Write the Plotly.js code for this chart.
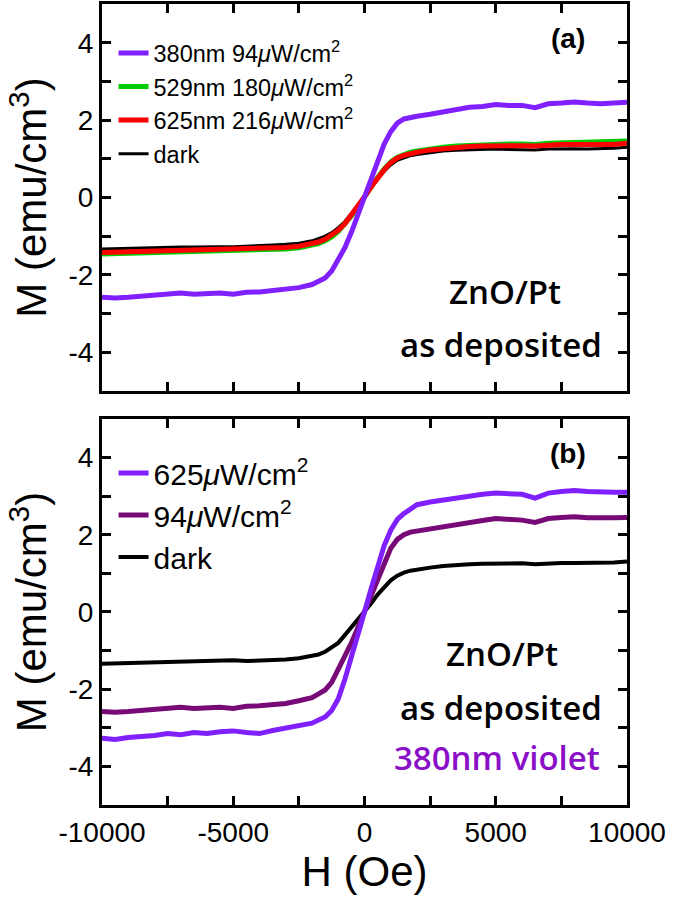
<!DOCTYPE html>
<html>
<head>
<meta charset="utf-8">
<script src="https://cdn.plot.ly/plotly-3.0.1.min.js"></script>
<style>html,body{margin:0;padding:0;background:#fff;}#chart{width:675px;height:897px;}</style>
</head>
<body>
<div id="chart"></div>
<script>
// Magnetic field H (Oe)
const H = [-10000,-9500,-9000,-8500,-8000,-7500,-7000,-6500,-6000,-5500,-5000,-4500,-4000,-3500,-3000,-2500,-2000,-1750,-1500,-1250,-1000,-750,-500,-250,0,250,500,750,1000,1250,1500,1750,2000,2500,3000,3500,4000,4500,5000,5500,6000,6500,7000,7500,8000,8500,9000,9500,10000];

// Panel (a)
const a380 = [-2.58,-2.6,-2.58,-2.55,-2.53,-2.5,-2.47,-2.5,-2.48,-2.47,-2.5,-2.45,-2.44,-2.41,-2.38,-2.33,-2.25,-2.18,-2.08,-1.9,-1.62,-1.3,-0.9,-0.45,0.0,0.5,0.95,1.38,1.7,1.92,2.03,2.08,2.1,2.15,2.22,2.27,2.33,2.35,2.4,2.38,2.38,2.32,2.42,2.44,2.47,2.44,2.42,2.44,2.46];
const a529 = [-1.46,-1.45,-1.44,-1.43,-1.42,-1.41,-1.4,-1.41,-1.4,-1.39,-1.39,-1.38,-1.37,-1.35,-1.33,-1.3,-1.24,-1.19,-1.12,-1.02,-0.88,-0.7,-0.48,-0.24,0.02,0.28,0.52,0.74,0.92,1.04,1.12,1.17,1.2,1.26,1.3,1.33,1.35,1.37,1.38,1.38,1.38,1.37,1.4,1.41,1.41,1.4,1.41,1.42,1.46];
const a625 = [-1.42,-1.41,-1.4,-1.39,-1.38,-1.37,-1.36,-1.37,-1.36,-1.35,-1.35,-1.34,-1.33,-1.31,-1.29,-1.26,-1.2,-1.15,-1.08,-0.98,-0.85,-0.68,-0.46,-0.23,0.02,0.27,0.5,0.72,0.9,1.02,1.09,1.14,1.17,1.23,1.27,1.3,1.32,1.33,1.34,1.34,1.34,1.33,1.36,1.37,1.37,1.36,1.37,1.37,1.4];
const aDark = [-1.33,-1.32,-1.31,-1.3,-1.3,-1.29,-1.28,-1.28,-1.27,-1.27,-1.27,-1.26,-1.25,-1.23,-1.21,-1.18,-1.12,-1.07,-1.0,-0.91,-0.78,-0.62,-0.42,-0.2,0.02,0.25,0.47,0.67,0.84,0.96,1.03,1.08,1.11,1.16,1.2,1.22,1.23,1.24,1.25,1.24,1.24,1.23,1.25,1.26,1.26,1.25,1.26,1.27,1.3];

// Panel (b)
const b625 = [-3.27,-3.3,-3.25,-3.24,-3.2,-3.15,-3.18,-3.12,-3.15,-3.1,-3.08,-3.12,-3.15,-3.07,-3.0,-2.95,-2.88,-2.8,-2.72,-2.55,-2.25,-1.75,-1.2,-0.6,0.0,0.6,1.2,1.72,2.12,2.4,2.55,2.68,2.78,2.85,2.9,2.98,3.02,3.05,3.08,3.07,3.05,2.95,3.08,3.12,3.15,3.12,3.1,3.1,3.1];
const b94 = [-2.58,-2.6,-2.58,-2.56,-2.52,-2.5,-2.47,-2.5,-2.48,-2.47,-2.5,-2.44,-2.43,-2.4,-2.37,-2.3,-2.22,-2.12,-2.02,-1.82,-1.5,-1.15,-0.8,-0.4,0.02,0.45,0.88,1.3,1.65,1.88,2.0,2.07,2.1,2.15,2.22,2.28,2.33,2.37,2.42,2.4,2.38,2.32,2.42,2.45,2.47,2.44,2.43,2.44,2.45];
const bDark = [-1.34,-1.33,-1.32,-1.31,-1.3,-1.3,-1.3,-1.29,-1.28,-1.27,-1.25,-1.27,-1.26,-1.24,-1.23,-1.2,-1.15,-1.1,-1.03,-0.93,-0.8,-0.6,-0.4,-0.2,0.0,0.22,0.45,0.65,0.82,0.94,1.02,1.07,1.1,1.15,1.19,1.22,1.24,1.25,1.26,1.25,1.26,1.24,1.26,1.27,1.27,1.27,1.28,1.28,1.31];

// Tick labels
const xTickVals = [-10000,-5000,0,5000,10000];
const xTickText = ['-10000','-5000','0','5000','10000'];
const xMinorVals = [-7500,-2500,2500,7500];
const yTickVals = [-4,-2,0,2,4];
const yTickText = ['-4','-2','0','2','4'];
const yMinorVals = [-3,-1,1,3];

const VIOLET = '#8020ff';
const PURPLE = '#780a78';

const traces = [
  {x:H, y:aDark, name:'dark', legendrank:4, line:{color:'#000000', width:3}, xaxis:'x', yaxis:'y', legend:'legend'},
  {x:H, y:a529, name:'529nm 180<i>μ</i>W/cm<sup>2</sup>', legendrank:2, line:{color:'#00cc00', width:5}, xaxis:'x', yaxis:'y', legend:'legend'},
  {x:H, y:a625, name:'625nm 216<i>μ</i>W/cm<sup>2</sup>', legendrank:3, line:{color:'#ff0000', width:5}, xaxis:'x', yaxis:'y', legend:'legend'},
  {x:H, y:a380, name:'380nm 94<i>μ</i>W/cm<sup>2</sup>', legendrank:1, line:{color:VIOLET, width:5}, xaxis:'x', yaxis:'y', legend:'legend'},
  {x:H, y:bDark, name:'dark', legendrank:3, line:{color:'#000000', width:4}, xaxis:'x2', yaxis:'y2', legend:'legend2'},
  {x:H, y:b94, name:'94<i>μ</i>W/cm<sup>2</sup>', legendrank:2, line:{color:PURPLE, width:5}, xaxis:'x2', yaxis:'y2', legend:'legend2'},
  {x:H, y:b625, name:'625<i>μ</i>W/cm<sup>2</sup>', legendrank:1, line:{color:VIOLET, width:5}, xaxis:'x2', yaxis:'y2', legend:'legend2'}
].map(t => Object.assign({type:'scatter', mode:'lines', hoverinfo:'skip'}, t));

const axFont = {family:'Arial, "Liberation Sans", sans-serif', size:28, color:'#000'};
const titleFont = {family:'Arial, "Liberation Sans", sans-serif', size:42, color:'#000'};
const minorTicks = (vals) => ({tickmode:'array', tickvals:vals, ticks:'inside', ticklen:9, tickwidth:3, tickcolor:'#000', showgrid:false});

function xAxis(anchor, showLabels, withTitle) {
  const ax = {
    anchor: anchor, range:[-10000,10000], showgrid:false, zeroline:false,
    showline:true, linecolor:'#000', linewidth:3, mirror:'ticks',
    ticks:'inside', ticklen:9, tickwidth:3, tickcolor:'#000',
    tickmode:'array', tickvals:xTickVals, ticktext:xTickText,
    minor: minorTicks(xMinorVals),
    showticklabels: showLabels, tickfont: axFont
  };
  if (withTitle) { ax.title = {text:'H (Oe)', font:titleFont, standoff:4}; }
  return ax;
}
function yAxis(anchor, domain) {
  return {
    anchor: anchor, domain: domain, range:[-5,5], showgrid:false, zeroline:false,
    showline:true, linecolor:'#000', linewidth:3, mirror:'ticks',
    ticks:'inside', ticklen:9, tickwidth:3, tickcolor:'#000',
    tickmode:'array', tickvals:yTickVals, ticktext:yTickText,
    minor: minorTicks(yMinorVals),
    tickfont: axFont,
    title:{text:'M (emu/cm<sup>3</sup>)', font:titleFont, standoff:9}
  };
}

const annFont = {family:'"Open Sans", "Noto Sans", sans-serif', size:33, color:'#000', weight:600};
const labFont = {family:'Arial, "Liberation Sans", sans-serif', size:28, color:'#000'};
const layout = {
  width:675, height:897,
  margin:{l:102, r:48, t:4, b:92},
  paper_bgcolor:'#fff', plot_bgcolor:'#fff',
  showlegend:true,
  xaxis: xAxis('y', false, false),
  yaxis: yAxis('x', [0.5169, 1]),
  xaxis2: xAxis('y2', true, true),
  yaxis2: yAxis('x2', [0, 0.4819]),
  legend: {x:0.022, y:0.966, xanchor:'left', yanchor:'top', bgcolor:'rgba(0,0,0,0)',
           font:{family:'Arial, "Liberation Sans", sans-serif', size:23.5, color:'#000'},
           tracegroupgap:0, itemwidth:30},
  legend2: {x:0.022, y:0.447, xanchor:'left', yanchor:'top', bgcolor:'rgba(0,0,0,0)',
           font:{family:'Arial, "Liberation Sans", sans-serif', size:30, color:'#000'},
           tracegroupgap:0, itemwidth:30},
  annotations: [
    {xref:'x', yref:'y', x:7750, y:4.1, text:'<b>(a)</b>', showarrow:false, font:labFont},
    {xref:'x', yref:'y', x:5350, y:-2.44, text:'ZnO/Pt', showarrow:false, font:annFont},
    {xref:'x', yref:'y', x:5200, y:-3.81, text:'as deposited', showarrow:false, font:annFont},
    {xref:'x2', yref:'y2', x:7750, y:4.1, text:'<b>(b)</b>', showarrow:false, font:labFont},
    {xref:'x2', yref:'y2', x:5250, y:-1.07, text:'ZnO/Pt', showarrow:false, font:annFont},
    {xref:'x2', yref:'y2', x:5200, y:-2.48, text:'as deposited', showarrow:false, font:annFont},
    {xref:'x2', yref:'y2', x:5050, y:-3.77, text:'380nm violet', showarrow:false, font:Object.assign({}, annFont, {color:'#8a10c8'})}
  ]
};

Plotly.newPlot('chart', traces, layout, {staticPlot:true, displayModeBar:false});
</script>
</body>
</html>
